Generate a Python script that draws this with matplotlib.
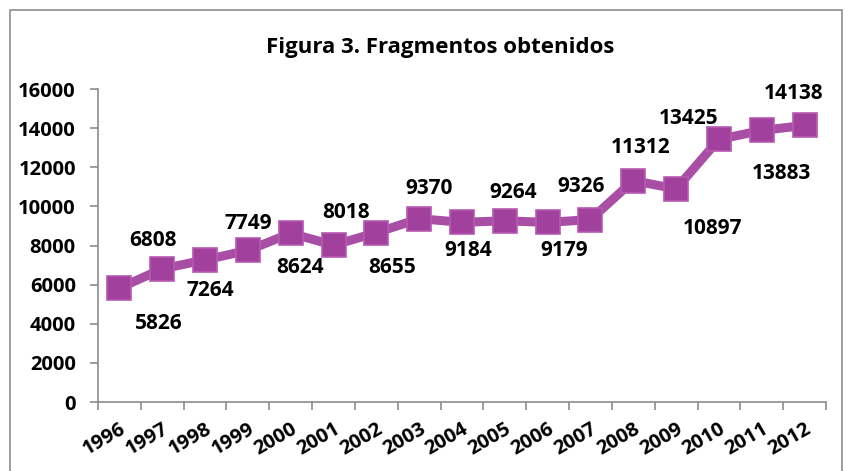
import matplotlib
matplotlib.use("Agg")
import matplotlib.pyplot as plt
from matplotlib.patches import Rectangle

years = ["1996", "1997", "1998", "1999", "2000", "2001", "2002", "2003", "2004",
         "2005", "2006", "2007", "2008", "2009", "2010", "2011", "2012"]
values = [5826, 6808, 7264, 7749, 8624, 8018, 8655, 9370, 9184,
          9264, 9179, 9326, 11312, 10897, 13425, 13883, 14138]
yticks = [0, 2000, 4000, 6000, 8000, 10000, 12000, 14000, 16000]
title = "Figura 3. Fragmentos obtenidos"

# data-label offsets in pixels (dx, dy), layout only
label_offsets = [(39, -35), (-9, 28), (5, -31), (0, 27), (9, -34), (13, 33),
                 (16, -35), (10, 30), (6, -28), (8, 28), (17, -28), (-9, 33),
                 (7, 33), (36, -40), (-30, 21), (20, -43), (-11, 32)]

plt.rcParams['font.family'] = ['Open Sans', 'DejaVu Sans']
plt.rcParams['font.weight'] = 'bold'

W, H = 848, 471
fig = plt.figure(figsize=(W / 100, H / 100), dpi=100)
fig.patch.set_facecolor('white')

# outer border
fig.patches.append(Rectangle((10 / W, -0.02), (842 - 10) / W, (H - 10) / H + 0.02,
                             transform=fig.transFigure, fill=False,
                             edgecolor='#8c8c8c', linewidth=1.2))

ax = fig.add_axes([98 / W, 1 - 402 / H, (826 - 98) / W, (402 - 89) / H])
x = list(range(len(years)))
ax.plot(x, values, color='#A84FA5', linewidth=6.5, solid_joinstyle='miter', zorder=2)
ax.plot(x, values, linestyle='none', marker='s', markersize=17.5,
        markerfacecolor='#A2409E', markeredgecolor='#B65AB0', markeredgewidth=1.2, zorder=3)

ax.set_xlim(-0.5, len(years) - 0.5)
ax.set_ylim(0, 16000)
ax.set_yticks(yticks)
ax.set_yticklabels([str(v) for v in yticks], fontsize=14.5, fontweight='bold')
ax.set_xticks([i - 0.5 for i in range(len(years) + 1)])
ax.set_xticklabels([])
ax.tick_params(axis='x', length=6, color='#8c8c8c', width=1.2)
ax.tick_params(axis='y', length=6, color='#8c8c8c', width=1.2, pad=10)

for i, v in enumerate(values):
    dx, dy = label_offsets[i]
    ax.annotate(str(v), (i, v), xytext=(dx, dy), textcoords='offset pixels',
                ha='center', va='center', fontsize=15, fontweight='bold', color='black')

for i, yr in enumerate(years):
    ax.annotate(yr, (i, 0), xytext=(5, -26), textcoords='offset pixels',
                ha='right', va='center', rotation=30, rotation_mode='anchor',
                fontsize=14.5, fontweight='bold', color='black', annotation_clip=False)

for s in ['top', 'right']:
    ax.spines[s].set_visible(False)
for s in ['left', 'bottom']:
    ax.spines[s].set_color('#8c8c8c')
    ax.spines[s].set_linewidth(1.2)

fig.text(440 / W, 1 - 47 / H, title, ha='center', va='center', fontsize=16, fontweight='bold')

fig.savefig("out.png", dpi=100)
